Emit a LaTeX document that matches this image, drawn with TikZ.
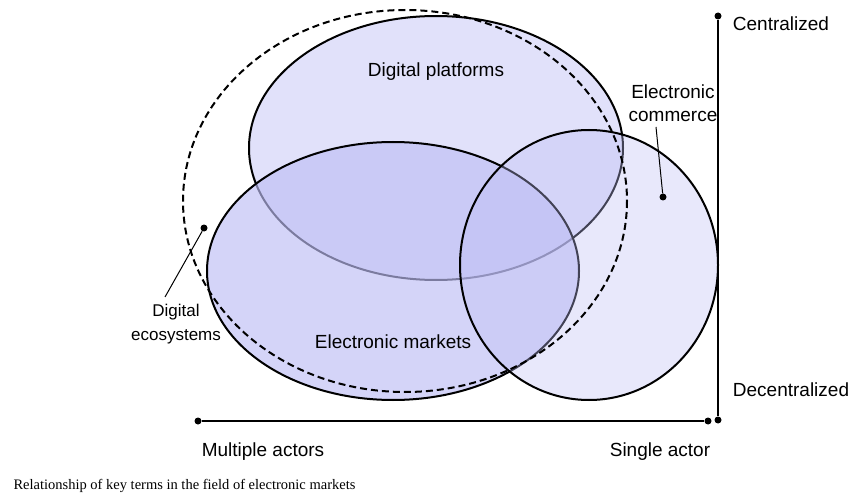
\documentclass[tikz,border=0pt]{standalone}
\usepackage{fontspec}
\setmainfont{Liberation Sans}
\newfontfamily\capfont{Liberation Serif}
\definecolor{lav}{RGB}{190,190,245}
\begin{document}
\begin{tikzpicture}[x=1pt,y=-1pt,
  set/.style={draw=black,line width=2pt,fill=lav,fill opacity=0.45},
  lbl/.style={font=\fontsize{19}{23}\selectfont,align=center},
  dotn/.style={circle,fill=black,inner sep=0pt,minimum size=7pt}]
\useasboundingbox (0,0) rectangle (860,500);
\fill[white] (0,0) rectangle (860,500);
\draw[set] (436,148) ellipse [x radius=187,y radius=132];
\draw[set,fill opacity=0.65] (393,271) ellipse [x radius=186,y radius=129];
\draw[set,fill opacity=0.35] (589,265) ellipse [x radius=129,y radius=135];
\draw[black,line width=2pt,dash pattern=on 7pt off 4pt] (405,201) ellipse [x radius=222,y radius=191];
\node[lbl] (dp) at (436,72) {Digital platforms};
\node[lbl] (em) at (393,342) {Electronic markets};
\node[lbl] (ec) at (673,103) {Electronic\\commerce};
\node[lbl,font=\fontsize{17}{24}\selectfont] (de) at (176,324) {Digital\\ecosystems};
\node[dotn] (ecd) at (663,197) {};
\node[dotn] (ded) at (204,228) {};
\draw[line width=1pt] (ecd) -- (656,127);
\draw[line width=1pt] (ded) -- (165,297);
\node[dotn] (vt) at (718,16) {};
\node[dotn] (vb) at (718,420) {};
\draw[line width=1.5pt] (vt) -- (vb);
\node[dotn] (hl) at (198,421) {};
\node[dotn] (hr) at (708,421) {};
\draw[line width=1.5pt] (hl) -- (hr);
\node[lbl] (c) at (781,24) {Centralized};
\node[lbl] (d) at (791,390) {Decentralized};
\node[lbl] (ma) at (263,452) {Multiple actors};
\node[lbl] (sa) at (660,452) {Single actor};
\node[anchor=west,font=\capfont\fontsize{14.5}{17}\selectfont] (cap) at (10,486) {Relationship of key terms in the field of electronic markets};
\end{tikzpicture}
\end{document}
